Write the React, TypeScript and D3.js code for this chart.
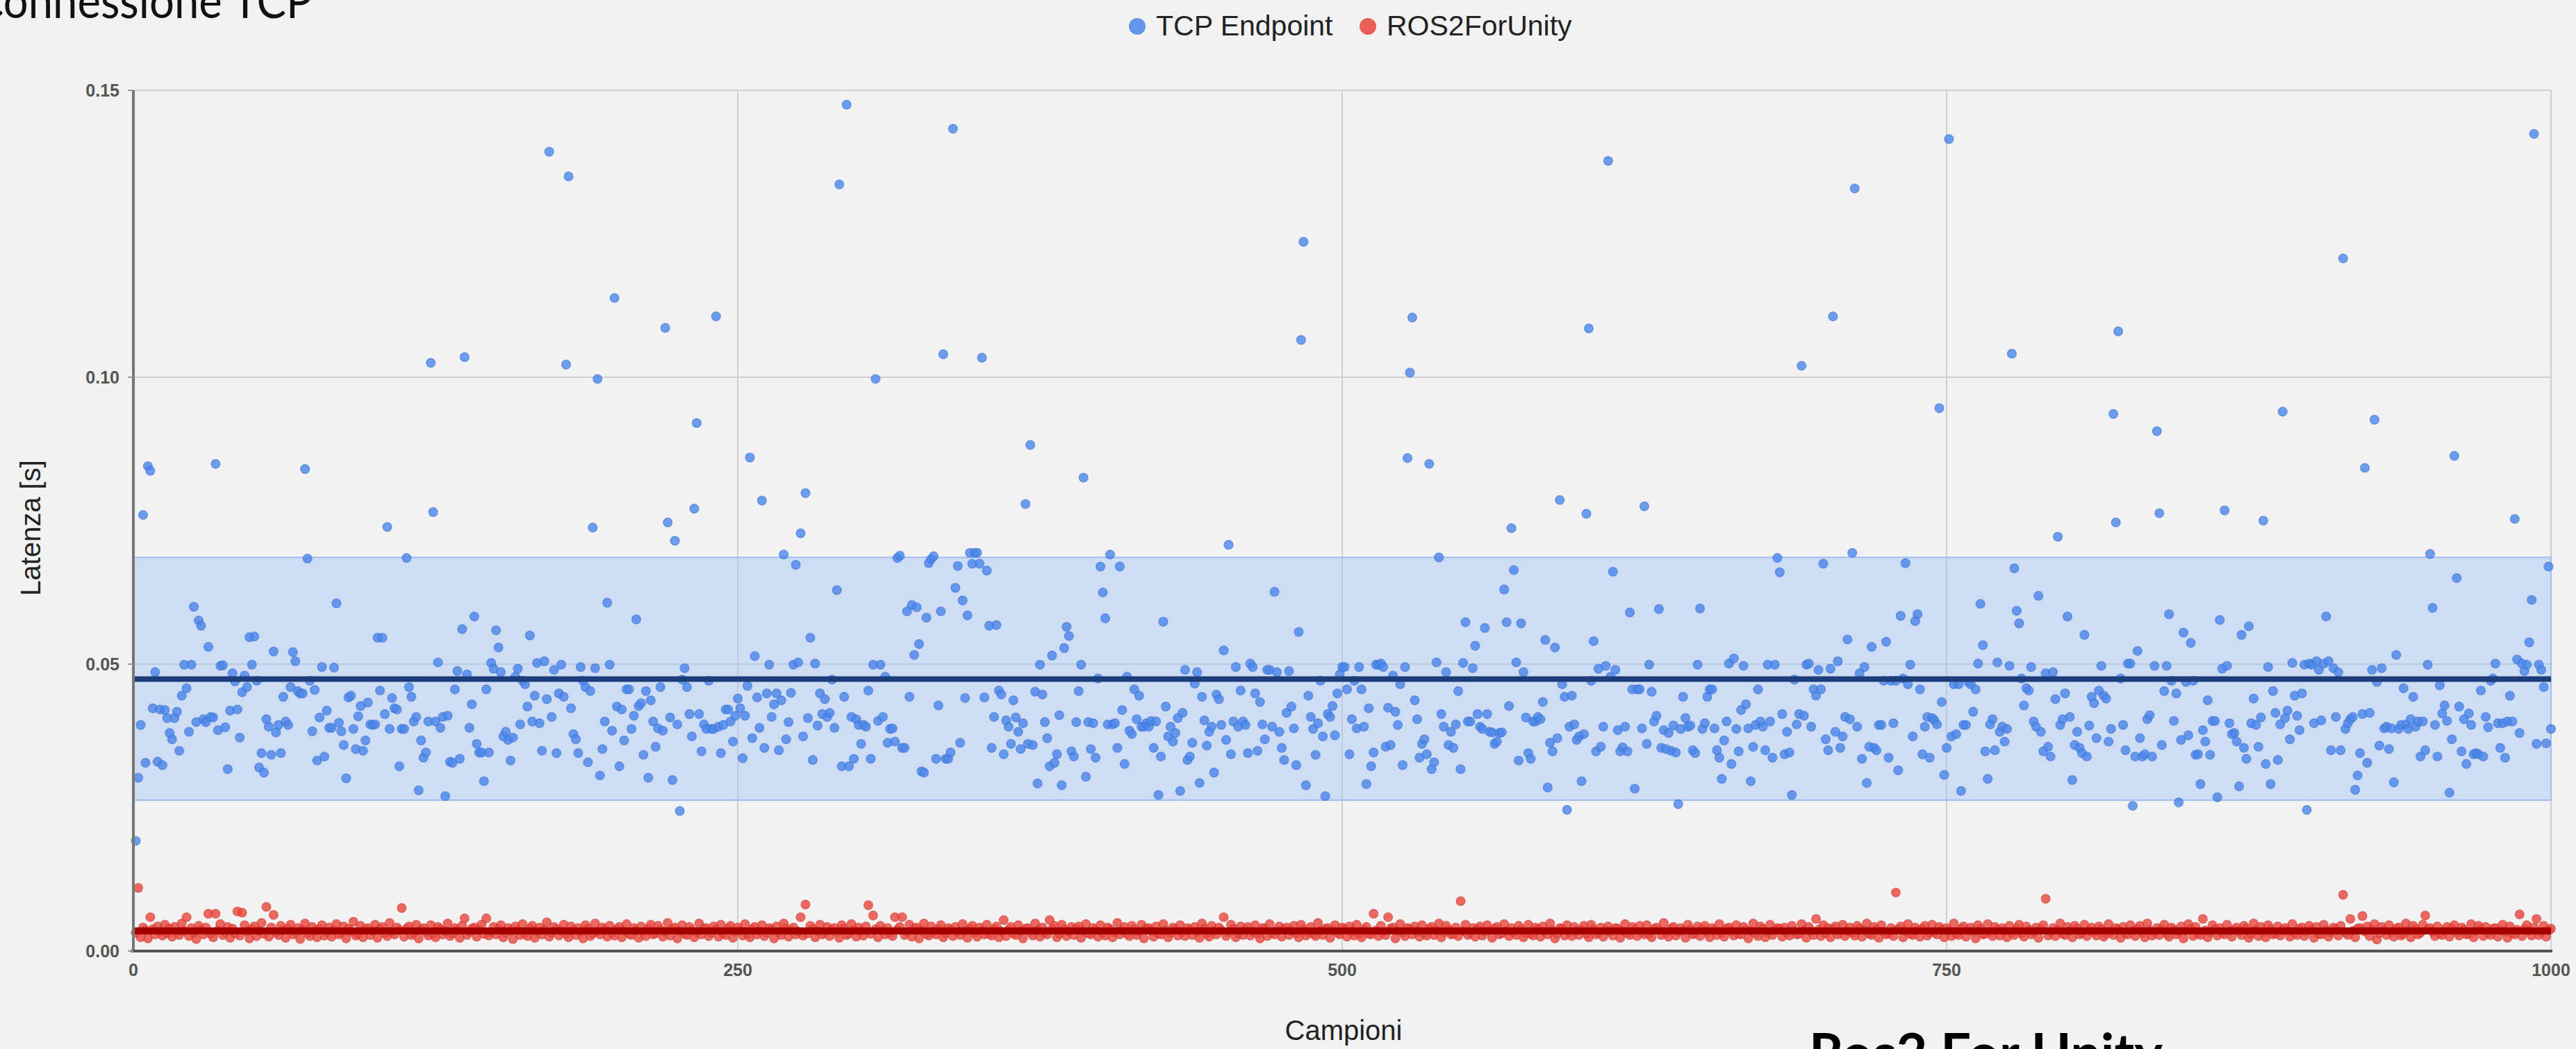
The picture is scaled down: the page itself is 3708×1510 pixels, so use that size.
import React from "react";
import * as d3 from "d3";

// ---------- DATA ----------
const xTicks = [0, 250, 500, 750, 1000];
const yTicks = [0, 0.05, 0.1, 0.15];
const seriesNames = ["TCP Endpoint", "ROS2ForUnity"];

// TCP Endpoint latency, milliseconds, sample 1..1000
const tcpLatencyMs = [
19.2,30.2,39.4,76.0,32.8,84.5,83.7,42.3,48.6,33.0,42.1,32.4,42.0,40.6,38.0,36.9,40.6,41.7,34.9,44.5,49.9,45.8,38.2,49.9,60.0,39.9,57.6,56.7,
40.4,39.9,53.0,40.8,40.7,84.9,38.5,49.7,49.8,39.0,31.7,41.9,48.4,47.0,42.1,37.2,45.1,48.0,46.0,54.7,
49.9,54.8,47.1,32.0,34.5,31.1,40.4,39.1,34.2,52.2,38.1,39.4,34.5,44.3,40.0,39.4,46.0,52.1,50.5,45.3,
44.9,44.9,84.0,68.4,47.1,38.3,45.5,33.2,40.7,49.5,33.9,41.9,38.9,38.9,49.4,60.6,39.8,38.3,35.9,30.1,
44.2,44.5,38.7,35.2,40.9,42.7,34.9,36.7,43.3,39.5,39.4,39.5,54.6,45.4,54.6,41.3,73.9,38.7,44.1,42.3,
42.1,32.2,38.7,38.7,68.5,46.0,44.3,40.0,40.8,28.0,36.7,33.7,34.6,40.0,102.5,76.5,40.0,50.3,38.9,40.8,
27.0,41.0,33.0,32.8,45.6,48.8,33.5,56.1,103.5,48.2,38.9,43.0,58.3,36.1,34.6,34.6,29.6,45.6,34.6,50.2,
49.2,55.9,52.9,48.6,37.4,38.2,36.8,33.2,37.2,47.8,49.2,39.5,47.1,46.5,42.6,55.0,40.0,44.5,50.2,39.7,
34.9,50.5,43.9,139.3,40.8,49.0,34.5,44.9,49.9,44.3,102.2,135.0,42.3,37.8,36.9,34.5,49.5,47.1,46.0,32.9,
45.3,73.8,49.3,99.7,30.6,35.2,40.0,60.7,49.9,38.4,113.8,42.6,32.2,42.1,36.7,45.6,45.6,38.7,41.0,57.8,
42.7,43.2,34.2,45.3,30.2,43.7,40.0,35.6,38.8,46.0,38.4,108.6,74.7,40.7,29.8,71.5,39.5,24.4,47.3,49.3,
46.0,41.3,37.4,77.1,92.0,41.3,34.8,39.5,38.7,47.1,38.7,38.7,110.6,39.1,34.5,39.4,42.1,42.1,40.0,36.5,41.0,44.0,
// 250-499
42.3,33.6,41.0,46.2,86.0,37.1,51.4,44.2,38.9,78.5,
35.4,44.9,49.9,40.8,43.0,44.9,35.0,43.7,69.1,36.9,
39.9,45.0,49.9,67.3,50.3,72.8,37.4,79.8,40.6,54.6,
33.3,50.1,39.3,44.9,41.3,43.9,40.8,41.5,47.3,38.9,
62.9,133.6,32.2,44.3,147.5,32.2,40.8,33.5,40.4,39.4,
36.1,39.4,39.1,45.4,33.5,49.9,99.7,40.1,49.9,40.8,
47.8,36.3,38.7,38.8,36.5,68.5,68.9,35.4,35.4,59.2,
44.3,60.3,51.6,59.9,53.5,31.3,31.1,58.1,67.6,68.3,
68.8,33.5,42.8,59.2,104.0,33.5,33.5,34.6,143.3,63.3,
67.1,36.3,61.1,44.1,58.5,69.4,67.5,69.4,69.4,67.5,
103.4,44.2,66.3,56.7,35.4,40.8,56.8,45.4,44.7,34.3,
40.2,39.1,36.1,43.7,40.7,38.2,35.2,39.7,77.9,36.1,
88.2,35.9,45.2,29.2,49.9,44.7,39.9,37.1,32.2,51.5,
32.8,34.3,41.1,28.9,52.8,56.5,54.9,34.8,33.9,39.9,
45.3,49.9,82.5,30.4,39.9,35.2,39.7,33.7,47.5,67.0,
62.5,58.0,39.5,69.1,39.5,39.7,35.4,67.0,42.0,32.6,
47.8,38.4,37.8,45.6,40.4,44.5,39.1,39.1,39.7,39.1,
40.1,35.4,40.0,27.2,33.9,57.4,42.6,37.4,39.1,36.5,
38.0,40.6,27.9,41.5,49.0,33.3,33.9,36.3,46.6,48.6,
29.3,44.3,40.2,35.8,38.2,39.1,31.1,44.7,43.9,39.4,
52.4,36.8,70.8,34.3,40.0,49.5,39.1,45.4,40.0,39.4,
34.5,50.1,49.5,44.9,34.9,43.4,39.5,36.9,49.0,49.0,
39.1,62.6,48.6,38.2,35.4,33.3,41.5,48.8,42.6,38.8,
32.4,55.6,106.5,123.6,28.9,44.5,40.8,38.7,34.2,39.7,
47.1,37.4,27.0,41.3,40.8,42.7,37.6,44.9,48.2,49.5,
// 500-749
49.5,45.6,34.3,40.4,47.1,38.8,49.5,45.6,39.1,29.1,
42.3,32.2,34.6,49.9,49.9,50.1,49.5,35.6,42.4,35.9,
48.0,41.7,39.4,46.5,32.4,49.5,85.9,100.8,110.4,43.7,
40.4,33.7,36.1,36.9,34.3,84.9,31.7,32.9,50.3,68.6,
41.3,39.1,48.6,35.9,38.2,35.4,39.5,45.3,31.7,50.2,
57.3,40.0,40.0,49.3,53.2,41.3,39.1,38.7,56.3,41.3,
38.2,38.1,36.1,36.5,38.0,38.1,63.0,57.3,42.7,73.7,
66.4,50.3,33.2,57.1,48.6,40.7,34.5,33.5,40.0,40.0,
40.8,40.4,43.4,54.2,28.5,36.3,34.8,52.9,37.1,78.6,
46.5,44.3,24.6,39.1,44.5,39.5,36.8,37.4,29.6,37.8,
76.2,108.5,47.1,54.0,34.8,49.2,35.6,39.1,49.7,137.7,
47.8,66.1,49.0,38.5,34.8,35.5,39.1,34.8,59.0,45.6,
28.3,45.6,45.6,38.8,77.5,36.1,49.9,45.2,40.0,41.0,
59.6,35.4,38.5,35.2,38.0,34.9,39.3,34.6,25.6,38.7,
44.3,40.6,39.1,39.3,35.0,34.5,49.9,59.7,38.7,39.7,
44.3,45.6,45.6,38.8,35.0,33.7,30.0,36.7,40.0,50.1,
32.6,51.0,38.7,34.8,42.0,49.7,43.0,38.8,29.6,35.6,
39.4,45.6,40.0,39.1,35.0,49.9,40.0,33.7,49.9,68.5,
66.0,41.3,34.3,38.2,34.6,27.2,47.3,39.5,41.3,102.0,
41.0,49.9,50.1,39.1,45.6,44.5,49.0,45.6,67.5,36.9,
35.0,49.2,110.6,38.2,50.5,35.4,37.4,40.8,54.3,40.4,
69.4,132.9,39.1,48.4,33.5,49.5,29.3,35.6,53.0,35.4,
35.0,39.4,39.4,47.1,53.9,33.7,47.1,39.7,47.1,31.5,
58.4,47.5,67.6,46.5,49.9,37.4,57.5,58.7,45.6,34.3,
39.1,40.8,33.7,40.6,40.2,39.5,94.6,43.4,30.7,35.4,
// 750-999
141.5,37.4,46.5,37.8,46.5,27.9,39.4,39.4,46.9,46.5,
41.7,45.6,50.1,60.5,53.3,34.8,30.0,39.5,40.4,35.0,
50.3,38.2,39.1,36.5,38.7,49.7,104.1,66.7,59.3,57.1,
47.5,42.8,45.8,45.4,49.5,40.0,39.1,61.9,38.2,34.8,
48.4,35.6,33.9,48.6,43.9,72.2,39.4,40.4,44.9,58.3,
40.8,29.8,35.9,38.2,35.4,34.5,55.1,33.9,39.3,44.3,
43.2,37.1,45.4,49.7,44.5,44.0,36.5,38.7,93.6,74.7,
108.0,47.5,39.4,35.0,50.1,50.1,25.3,33.9,52.3,37.1,
33.9,34.3,40.4,41.1,33.9,49.7,90.6,76.3,35.9,45.3,
49.7,58.7,47.1,40.1,44.9,25.9,36.8,55.5,46.9,37.6,
53.7,47.1,34.2,34.3,29.1,38.5,36.5,43.7,34.2,40.1,
40.1,26.8,57.7,49.2,76.8,49.7,39.7,37.8,38.0,36.5,
28.7,55.1,35.4,33.5,56.6,39.7,44.0,39.4,35.6,40.7,
75.0,32.6,49.5,29.1,45.3,41.5,33.3,39.5,94.0,40.6,
41.9,36.9,50.2,44.5,41.0,38.5,44.9,49.9,24.6,50.1,
49.9,39.7,50.5,49.0,40.2,50.1,58.3,50.5,35.0,49.3,
40.8,48.6,35.0,120.7,38.7,39.7,40.4,40.8,28.1,30.6,
34.5,41.3,84.2,32.8,41.5,49.0,92.6,46.9,35.8,49.3,
38.8,39.1,35.2,38.8,29.4,51.6,38.7,39.4,45.8,39.5,
38.7,40.4,44.3,39.1,40.0,33.9,40.0,35.0,49.9,69.2,
59.8,39.4,33.9,46.3,41.4,42.8,40.1,27.6,36.9,86.3,
65.0,42.6,34.8,40.4,32.6,41.4,39.4,34.3,34.5,34.3,
45.4,33.9,40.8,39.0,47.1,47.5,50.1,39.7,35.4,39.7,
33.7,40.0,44.5,40.0,75.3,50.8,38.0,50.1,48.8,49.9,
53.8,61.2,142.4,36.1,49.9,49.0,46.0,36.2,67.0,38.7,
];

// ROS2ForUnity latency, milliseconds, sample 1..1000
const ros2LatencyMs = [
3.2,11.0,2.4,4.1,3.6,2.2,5.9,3.8,2.9,4.3,3.4,2.7,4.6,3.1,3.9,2.5,4.2,3.3,2.8,4.8,
3.5,5.9,2.6,4.0,3.2,2.1,4.4,3.7,2.9,4.1,6.5,3.0,2.4,6.5,3.6,4.7,2.8,3.3,4.2,2.3,
3.9,3.1,6.9,2.7,6.7,4.5,3.4,2.2,3.8,4.3,2.6,3.5,4.9,3.0,7.7,2.5,4.1,6.3,3.2,2.8,
4.4,3.6,2.3,3.9,4.6,2.9,3.3,4.0,2.1,3.7,4.8,3.1,2.6,4.2,3.5,2.4,3.8,4.5,2.7,3.3,
4.1,2.5,3.6,4.7,2.9,3.2,4.3,2.2,3.9,3.4,5.1,2.7,3.0,4.4,2.4,3.7,4.0,2.8,3.5,4.6,
2.3,3.8,4.2,3.1,2.6,4.9,3.4,2.9,4.1,3.6,7.5,2.5,3.9,4.3,2.8,3.2,4.6,2.2,3.7,4.0,
3.3,2.7,4.5,3.0,2.4,4.2,3.8,2.9,3.5,4.8,2.6,3.1,4.0,3.6,2.3,4.4,5.7,2.8,3.4,3.9,
4.1,2.5,3.7,4.6,3.0,5.7,2.7,3.3,4.2,2.9,3.8,4.5,2.4,3.2,4.0,3.5,2.1,4.3,3.6,2.8,
4.7,3.1,2.6,3.9,4.4,2.3,3.4,4.1,2.9,3.7,5.0,2.5,3.2,4.2,3.8,2.7,3.5,4.6,3.0,2.4,
4.3,3.6,2.8,4.0,3.3,2.2,4.5,3.9,2.6,3.1,4.8,3.4,2.9,4.1,3.7,2.5,4.4,3.2,2.7,3.8,
4.2,2.4,3.5,4.7,3.0,2.8,4.0,3.6,2.3,4.3,3.3,2.6,3.9,4.6,2.9,3.1,4.4,3.7,2.5,3.4,
4.9,2.7,3.8,4.1,2.2,3.5,4.5,3.0,2.8,4.2,3.6,2.4,3.3,4.8,2.9,3.9,4.0,2.6,3.2,4.3,
3.7,2.5,4.6,3.1,2.8,3.9,4.4,2.3,3.4,4.1,3.6,2.7,4.7,3.0,2.4,3.8,4.2,2.9,3.5,4.5,
2.6,3.2,4.0,3.7,2.2,4.3,3.3,2.8,4.8,3.9,2.5,3.6,4.1,2.9,3.4,5.9,2.7,8.1,3.1,4.4,
3.8,2.4,3.5,4.6,2.9,3.2,4.2,2.6,3.7,4.0,3.3,2.3,4.5,3.9,2.8,3.1,4.7,3.6,2.5,4.1,
3.4,2.7,4.3,8.0,3.0,6.2,3.8,2.4,4.4,3.5,2.9,4.0,3.2,2.6,5.9,3.7,4.2,5.9,2.8,3.3,
4.6,2.5,3.9,4.1,2.2,3.6,4.8,3.0,2.7,4.3,3.4,2.9,3.8,4.5,2.4,3.1,4.0,3.7,2.6,4.2,
3.3,2.8,4.7,3.5,2.3,3.9,4.4,3.2,2.5,4.1,3.6,2.9,4.6,3.0,2.7,3.8,4.3,2.4,3.4,5.4,
2.6,3.7,4.2,3.1,2.8,4.5,3.5,2.2,3.9,4.0,3.3,2.7,4.8,3.6,2.5,4.1,3.2,2.9,5.4,3.8,
4.4,2.4,3.0,4.6,3.7,2.6,3.4,4.2,2.8,3.9,4.3,2.3,3.5,4.7,3.1,2.9,4.0,3.6,2.5,4.5,
3.2,2.7,4.1,3.8,2.4,3.3,4.9,2.9,3.6,4.2,3.0,2.6,4.4,3.7,2.8,3.4,4.6,2.2,3.9,4.0,
3.5,2.5,4.3,3.1,2.9,4.7,3.6,2.4,3.2,4.1,3.8,2.7,4.5,3.3,2.6,4.0,3.7,2.8,4.2,3.4,
2.3,4.8,3.9,3.0,2.5,4.4,3.5,2.9,4.1,3.6,5.9,2.6,3.3,4.6,3.8,2.4,3.1,4.3,2.8,3.7,
4.2,2.7,3.4,4.5,3.0,2.2,4.0,3.9,2.6,4.7,3.2,2.9,3.6,4.3,2.5,3.8,4.1,2.8,3.5,4.4,
3.1,2.4,4.6,3.7,2.7,3.3,4.2,3.0,2.6,4.9,3.5,2.8,3.9,4.0,2.3,3.6,4.5,3.2,2.9,4.1,
3.8,2.5,4.3,3.4,2.7,4.6,3.1,2.4,3.7,4.2,3.0,2.9,6.5,3.6,2.6,4.4,3.3,2.8,5.9,3.9,
4.1,2.2,3.5,4.7,3.2,2.6,4.0,3.8,2.9,4.3,3.4,2.5,4.5,3.1,2.7,3.9,4.2,2.8,3.6,4.8,
2.4,3.3,4.4,3.7,2.9,3.0,4.1,2.6,8.7,3.5,4.6,2.8,3.2,4.0,2.5,3.8,4.3,2.7,3.4,4.5,
3.6,2.3,3.9,4.2,2.9,3.1,4.7,3.5,2.6,4.0,3.3,2.8,4.4,3.7,2.4,3.2,4.6,3.0,2.7,4.1,
3.8,2.5,4.3,3.4,2.9,4.8,3.6,2.2,3.1,4.0,3.9,2.7,4.5,3.3,2.6,4.2,3.5,2.8,3.7,4.4,
3.0,2.4,4.6,3.8,2.9,3.2,4.1,2.5,3.6,4.3,3.4,2.7,4.0,3.9,2.3,3.5,4.7,3.1,2.8,4.2,
3.7,2.6,4.4,3.3,2.9,4.5,3.0,2.4,3.8,4.1,3.6,2.8,4.9,3.2,2.5,3.9,4.2,2.7,3.4,4.0,
3.5,2.3,4.6,3.7,2.9,3.1,4.3,2.6,3.8,4.4,3.3,2.4,4.0,3.6,2.8,4.7,3.2,2.5,3.9,4.1,
3.4,2.7,4.5,3.0,2.9,4.2,3.7,2.2,3.5,4.8,3.1,2.6,4.3,3.8,2.4,3.3,4.6,2.8,3.6,4.0,
3.9,2.5,4.1,3.2,2.7,4.4,3.5,2.9,3.0,4.7,3.6,2.3,4.2,3.4,2.8,5.6,3.7,2.6,4.5,3.1,
4.0,2.4,3.8,4.3,2.9,3.3,4.6,2.6,3.5,4.1,3.2,2.7,4.4,3.9,2.5,3.6,4.8,3.0,2.8,4.2,
3.7,2.3,4.5,3.4,2.9,3.1,4.0,2.6,10.2,3.8,4.3,2.4,3.5,4.7,3.0,2.8,4.1,3.6,2.5,3.9,
4.4,2.7,3.2,4.6,3.3,2.9,4.2,3.7,2.4,4.0,3.5,2.6,4.8,3.1,2.8,3.9,4.3,2.5,3.6,4.1,
3.4,2.2,4.5,3.8,2.9,3.0,4.7,3.3,2.6,4.2,3.7,2.7,4.0,3.5,2.4,4.4,3.2,2.8,3.9,4.6,
3.1,2.5,4.3,3.6,2.9,3.4,4.1,2.3,3.8,4.5,9.1,2.7,3.3,4.0,2.6,3.7,4.8,3.0,2.8,4.2,
3.5,2.4,4.4,3.9,2.9,3.2,4.6,2.6,3.6,4.1,3.3,2.7,4.3,3.8,2.5,3.0,4.7,3.4,2.8,4.0,
3.7,2.3,4.2,3.1,2.9,4.5,3.5,2.6,3.9,4.4,3.2,2.4,4.8,3.6,2.7,3.3,4.0,2.8,3.8,4.6,
3.0,2.5,4.1,3.7,2.9,3.4,4.3,2.2,3.5,4.7,3.9,2.6,4.2,3.1,2.8,5.6,3.6,2.4,3.3,4.5,
3.8,2.7,4.0,3.2,2.9,4.6,3.5,2.5,3.7,4.1,3.4,2.8,4.4,3.9,2.3,3.0,4.8,3.6,2.6,4.2,
3.3,2.4,4.5,3.8,2.9,3.1,4.3,2.7,3.6,4.0,3.5,2.5,4.7,3.2,2.8,3.9,4.1,2.6,3.4,4.4,
3.7,2.3,4.2,3.0,2.9,4.6,3.6,2.5,3.3,4.1,3.8,2.7,4.4,9.8,3.2,2.8,5.6,3.5,2.4,3.9,
4.0,6.1,3.4,4.3,2.6,3.7,4.7,2.0,3.1,4.2,3.6,2.8,4.5,3.3,2.5,3.9,4.1,2.7,3.0,4.8,
3.5,2.4,4.4,3.8,2.9,3.2,4.6,6.2,3.7,4.0,3.4,2.6,4.3,3.1,2.8,3.6,4.2,2.5,3.9,4.5,
3.3,2.7,4.1,3.7,2.9,3.0,4.7,2.4,3.5,4.4,3.8,2.6,4.2,3.2,2.8,3.9,4.0,2.5,3.6,4.6,
3.4,2.3,4.3,3.1,2.9,3.7,6.4,2.6,3.8,4.5,3.5,2.7,4.1,5.6,2.8,3.3,4.4,2.5,3.6,3.9,
];

// summary lines (seconds)
const tcpMean = 0.0474;
const tcpBandLow = 0.0263;
const tcpBandHigh = 0.0686;
const ros2Mean = 0.0035;

// ---------- LAYOUT ----------
const W = 3708;
const H = 1510;
const M = { left: 192, right: 3672, top: 130, bottom: 1369 };
const BG = "#f2f2f2";
const BLUE = "#4a86e8";
const RED = "#e8453c";

export default function App() {
  const x = d3.scaleLinear().domain([0, 1000]).range([M.left, M.right]);
  const y = d3.scaleLinear().domain([0, 0.15]).range([M.bottom, M.top]);

  const tcp = tcpLatencyMs.map((v, i) => ({ x: i + 1, y: v / 1000 }));
  const ros = ros2LatencyMs.map((v, i) => ({ x: i + 1, y: v / 1000 }));

  const hLine = (v: number) =>
    d3.line<number>().x((d) => x(d)).y(() => y(v))([0, 1000]) || "";

  const fontChart = "'Liberation Sans', Arial, sans-serif";
  const fontSlide = "Lato, 'Open Sans', sans-serif";

  return (
    <svg
      width={W}
      height={H}
      style={{ position: "absolute", left: 0, top: 0, background: BG }}
    >
      <rect x={0} y={0} width={W} height={H} fill={BG} />

      {/* slide title (cropped by the slide edge) */}
      <text
        x={-37}
        y={26}
        fontFamily={fontSlide}
        fontSize={70}
        fill="#111"
        textLength={487}
        lengthAdjust="spacingAndGlyphs"
      >
        Connessione TCP
      </text>

      {/* legend */}
      <g fontFamily={fontChart} fontSize={41} fill="#222">
        <circle cx={1637} cy={38} r={12} fill={BLUE} fillOpacity={0.85} />
        <text x={1664} y={51}>{seriesNames[0]}</text>
        <circle cx={1969} cy={38} r={12} fill={RED} fillOpacity={0.85} />
        <text x={1996} y={51}>{seriesNames[1]}</text>
      </g>

      {/* gridlines */}
      <g stroke="#cfcfcf" strokeWidth={2}>
        {yTicks.filter((t) => t > 0).map((t) => (
          <line key={"gy" + t} x1={M.left} x2={M.right} y1={y(t)} y2={y(t)} />
        ))}
        {xTicks.filter((t) => t > 0).map((t) => (
          <line key={"gx" + t} x1={x(t)} x2={x(t)} y1={M.top} y2={M.bottom} />
        ))}
      </g>

      {/* TCP band */}
      <rect
        x={x(0)}
        y={y(tcpBandHigh)}
        width={x(1000) - x(0)}
        height={y(tcpBandLow) - y(tcpBandHigh)}
        fill="#a9c6f5"
        fillOpacity={0.5}
        stroke="#9dbcf0"
        strokeWidth={2}
      />

      {/* points */}
      <g fill={BLUE} fillOpacity={0.8} stroke="#3a72d6" strokeOpacity={0.6} strokeWidth={1.2}>
        {tcp.map((d, i) => (
          <circle key={"t" + i} cx={x(d.x)} cy={y(d.y)} r={6.5} />
        ))}
      </g>
      <g fill={RED} fillOpacity={0.8} stroke="#c9302a" strokeOpacity={0.5} strokeWidth={1.2}>
        {ros.map((d, i) => (
          <circle key={"r" + i} cx={x(d.x)} cy={y(d.y)} r={6.5} />
        ))}
      </g>

      {/* mean lines */}
      <path d={hLine(tcpMean)} stroke="#1c3d7a" strokeWidth={8} fill="none" />
      <path d={hLine(ros2Mean)} stroke="#a50000" strokeWidth={10} fill="none" />

      {/* axes */}
      <line x1={M.left} x2={M.left} y1={M.top} y2={M.bottom} stroke="#777" strokeWidth={4} />
      <line x1={M.left - 4} x2={M.right + 2} y1={M.bottom} y2={M.bottom} stroke="#555" strokeWidth={4} />
      <g stroke="#999" strokeWidth={2}>
        {yTicks.map((t) => (
          <line key={"ty" + t} x1={M.left - 8} x2={M.left} y1={y(t)} y2={y(t)} />
        ))}
      </g>

      {/* tick labels */}
      <g fontFamily={fontChart} fontSize={25} fontWeight="bold" fill="#555" textAnchor="end">
        {yTicks.map((t) => (
          <text key={"ly" + t} x={M.left - 20} y={y(t)} dominantBaseline="central">
            {d3.format(".2f")(t)}
          </text>
        ))}
      </g>
      <g fontFamily={fontChart} fontSize={25} fontWeight="bold" fill="#555" textAnchor="middle">
        {xTicks.map((t) => (
          <text key={"lx" + t} x={x(t)} y={1405}>
            {t}
          </text>
        ))}
      </g>

      {/* axis titles */}
      <text
        transform={`translate(58, 760) rotate(-90)`}
        textAnchor="middle"
        fontFamily={fontChart}
        fontSize={40}
        fill="#222"
      >
        Latenza [s]
      </text>
      <text x={1934} y={1497} textAnchor="middle" fontFamily={fontChart} fontSize={40} fill="#222">
        Campioni
      </text>

      {/* slide caption (cropped at the bottom edge, as in the reference) */}
      <text
        x={2604}
        y={1543}
        fontFamily={fontSlide}
        fontSize={76}
        fontWeight="bold"
        fill="#000"
        textLength={509}
        lengthAdjust="spacingAndGlyphs"
      >
        Ros2 For Unity
      </text>
    </svg>
  );
}
